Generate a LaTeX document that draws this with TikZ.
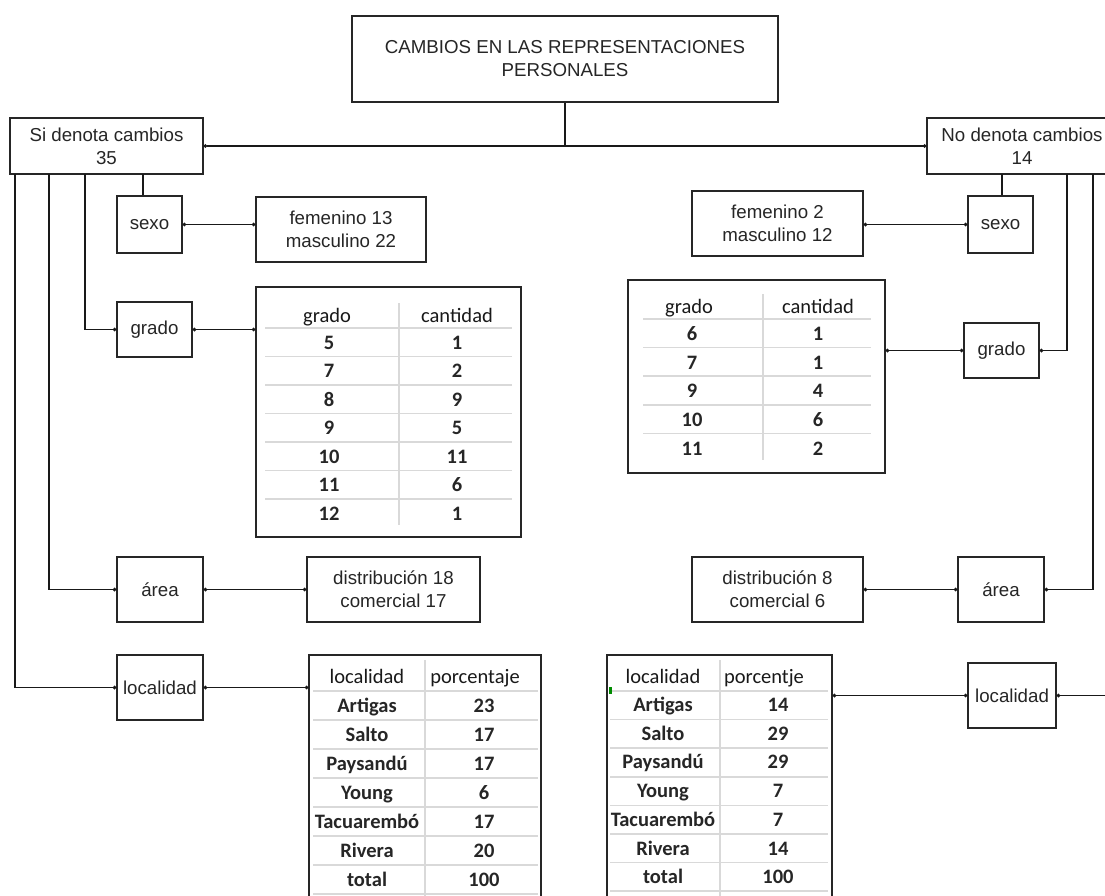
\documentclass[tikz,border=0pt]{standalone}
\usepackage{fontspec}
\setmainfont{Liberation Sans}
\newfontfamily\tabfont{Carlito}
\usetikzlibrary{arrows.meta}
\begin{document}
\begin{tikzpicture}[x=1pt,y=-1pt,
  box/.style={draw=black!85, line width=1.4pt, inner sep=0pt, align=center,
    font=\fontsize{18.7}{23}\selectfont, text=black!85},
  conn/.style={line width=1.4pt, draw=black!90},
  link/.style={conn, {Circle[length=3.5pt]}-{Circle[length=3.5pt]}},
  grid/.style={draw=gray!30, line width=1.5pt},
  th/.style={inner sep=0pt, text height=13pt, text depth=0pt,
    font=\tabfont\fontsize{20.5}{24}\selectfont, text=black!90},
  td/.style={th, font=\tabfont\bfseries\fontsize{20.5}{24}\selectfont, text=black!85}
]
\useasboundingbox (0,0) rectangle (1105,895);
\fill[white] (0,0) rectangle (1105,895);
\clip (0,0) rectangle (1105,895);

% ---------- boxes ----------
\node[box, minimum width=426pt, minimum height=86pt] (title) at (565,59)
  {CAMBIOS EN LAS REPRESENTACIONES\\PERSONALES};
\node[box, minimum width=193pt, minimum height=56pt] (si) at (106.5,146)
  {Si denota cambios\\35};
\node[box, minimum width=190pt, minimum height=56pt] (no) at (1022,146)
  {No denota cambios\\14};

% left branch
\node[box, minimum width=65pt, minimum height=57pt] (sexoL) at (149.5,224.5) {sexo};
\node[box, minimum width=170pt, minimum height=65pt] (femL) at (341,229.5)
  {femenino 13\\masculino 22};
\node[box, minimum width=75pt, minimum height=55pt] (gradoL) at (154.5,329.5) {grado};
\node[box, minimum width=265pt, minimum height=250pt] (tabL1) at (388.5,412) {};
\node[box, minimum width=86pt, minimum height=65pt] (areaL) at (160,589.5) {área};
\node[box, minimum width=173pt, minimum height=65pt] (distL) at (393.5,589.5)
  {distribución 18\\comercial 17};
\node[box, minimum width=86pt, minimum height=65pt] (locL) at (160,687.5) {localidad};
\node[box, minimum width=232pt, minimum height=250pt] (tabL2) at (425,780) {};

% right branch
\node[box, minimum width=65pt, minimum height=57pt] (sexoR) at (1000.5,224.5) {sexo};
\node[box, minimum width=171pt, minimum height=65pt] (femR) at (777.5,223.5)
  {femenino 2\\masculino 12};
\node[box, minimum width=75pt, minimum height=55pt] (gradoR) at (1001.5,350.5) {grado};
\node[box, minimum width=257pt, minimum height=193pt] (tabR1) at (756.5,376.5) {};
\node[box, minimum width=86pt, minimum height=65pt] (areaR) at (1001,589.5) {área};
\node[box, minimum width=171pt, minimum height=65pt] (distR) at (777.5,589.5)
  {distribución 8\\comercial 6};
\node[box, minimum width=88pt, minimum height=65pt] (locR) at (1012,695.5) {localidad};
\node[box, minimum width=225pt, minimum height=250pt] (tabR2) at (719.5,780) {};

% ---------- connectors ----------
\coordinate (top) at (565,146);
\draw[conn] (title.south) -- (top);
\draw[link] (si.east) -- (no.west);

\coordinate (tL0) at (143,174);
\coordinate (tL1) at (85,174);
\coordinate (tL2) at (49,174);
\coordinate (tL3) at (15,174);
\draw[conn] (tL0) -- (tL0 |- sexoL.north);
\draw[conn, -{Circle[length=3.5pt]}] (tL1) |- (gradoL.west);
\draw[conn, -{Circle[length=3.5pt]}] (tL2) |- (areaL.west);
\draw[conn, -{Circle[length=3.5pt]}] (tL3) |- (locL.west);
\draw[link] (sexoL.east) -- (sexoL.east -| femL.west);
\draw[link] (gradoL.east) -- (gradoL.east -| tabL1.west);
\draw[link] (areaL.east) -- (distL.west);
\draw[link] (locL.east) -- (locL.east -| tabL2.west);

\coordinate (tR0) at (1002,174);
\coordinate (tR1) at (1067,174);
\coordinate (tR2) at (1093,174);
\coordinate (tR3) at (1114,174);
\draw[conn] (tR0) -- (tR0 |- sexoR.north);
\draw[conn, -{Circle[length=3.5pt]}] (tR1) |- (gradoR.east);
\draw[conn, -{Circle[length=3.5pt]}] (tR2) |- (areaR.east);
\draw[conn, -{Circle[length=3.5pt]}] (tR3) |- (locR.east);
\draw[link] (sexoR.west -| femR.east) -- (sexoR.west);
\draw[link] (gradoR.west -| tabR1.east) -- (gradoR.west);
\draw[link] (distR.east) -- (areaR.west);
\draw[link] (locR.west -| tabR2.east) -- (locR.west);

% ---------- table L1 (grado / cantidad) ----------
\foreach \k in {0,...,6} \draw[grid] (265,{328+28.5*\k}) -- (512,{328+28.5*\k});
\draw[grid] (399,303) -- (399,525);
\node[th] (l1h1) at (327,316) {grado};
\node[th] (l1h2) at (457,316) {cantidad};
\foreach \g/\c [count=\k from 0] in {5/1,7/2,8/9,9/5,10/11,11/6,12/1} {
  \node[td] (l1a\k) at (329,{342.5+28.5*\k}) {\g};
  \node[td] (l1b\k) at (457,{342.5+28.5*\k}) {\c};
}

% ---------- table R1 ----------
\foreach \k in {0,...,4} \draw[grid] (643,{319+28.6*\k}) -- (871,{319+28.6*\k});
\draw[grid] (763,294) -- (763,460);
\node[th] (r1h1) at (689,307) {grado};
\node[th] (r1h2) at (818,307) {cantidad};
\foreach \g/\c [count=\k from 0] in {6/1,7/1,9/4,10/6,11/2} {
  \node[td] (r1a\k) at (692,{334+28.7*\k}) {\g};
  \node[td] (r1b\k) at (818,{334+28.7*\k}) {\c};
}

% ---------- table L2 (localidad / porcentaje) ----------
\foreach \k in {0,...,7} \draw[grid] (313,{691+29*\k}) -- (538,{691+29*\k});
\draw[grid] (425,660) -- (425,900);
\node[th] (l2h1) at (367,677) {localidad};
\node[th] (l2h2) at (475,677) {porcentaje};
\foreach \l/\p [count=\k from 0] in {Artigas/23,Salto/17,Paysandú/17,Young/6,Tacuarembó/17,Rivera/20,total/100} {
  \node[td] (l2a\k) at (367,{706+29*\k}) {\l};
  \node[td] (l2b\k) at (484,{706+29*\k}) {\p};
}

% ---------- table R2 ----------
\foreach \k in {0,...,7} \draw[grid] (610,{691+28.6*\k}) -- (828,{691+28.6*\k});
\draw[grid] (720,660) -- (720,900);
\node[th] (r2h1) at (663,677) {localidad};
\node[th] (r2h2) at (764,677) {porcentje};
\foreach \l/\p [count=\k from 0] in {Artigas/14,Salto/29,Paysandú/29,Young/7,Tacuarembó/7,Rivera/14,total/100} {
  \node[td] (r2a\k) at (663,{705+28.7*\k}) {\l};
  \node[td] (r2b\k) at (778,{705+28.7*\k}) {\p};
}
\fill[green!55!black] (609,687) rectangle (611.5,694);
\end{tikzpicture}
\end{document}
